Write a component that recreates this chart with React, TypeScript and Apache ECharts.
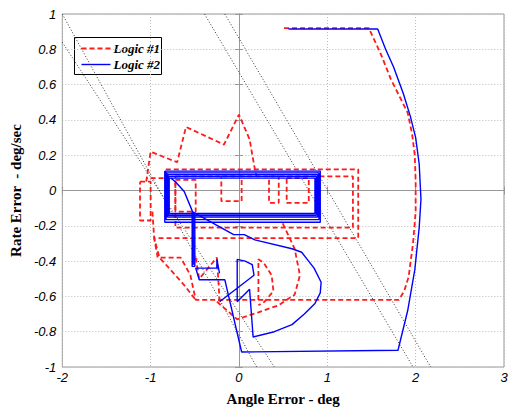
import React, { useEffect, useRef } from "react";
import * as echarts from "echarts";

// ---- axes ----
const xMin = -2, xMax = 3, xStep = 1;
const yMin = -1, yMax = 1, yStep = 0.2;

// ---- legend ----
const legendNames = ["Logic #1", "Logic #2"];

// ---- dotted switching lines ----
const switchLine1 = [[-2, 1], [0.2, -1]];
const switchLine2 = [[-2, 0.84], [0.4, -1]];
const switchLine3 = [[-0.39, 1], [1.97, -1]];
const switchLine4 = [[-0.16, 1], [2.17, -1]];

// ---- Logic #1 (red dashed) ----
const redOuter = [
  [0.51, 0.92], [1.47, 0.92], [1.6, 0.78], [1.72, 0.63], [1.83, 0.52], [1.91, 0.44],
  [1.96, 0.32], [1.99, 0.2], [2.0, 0.05], [2.0, -0.12], [1.97, -0.3], [1.92, -0.49],
  [1.87, -0.57], [1.81, -0.62], [-0.49, -0.62], [-0.55, -0.48], [-0.66, -0.38],
  [-0.92, -0.38], [-0.96, -0.27], [1.35, -0.27], [1.35, 0.12], [-0.83, 0.12],
  [-0.83, 0.07], [-1.05, 0.07],
];
const redJag = [
  [-1.05, 0.05], [-1.0, 0.22], [-0.7, 0.16], [-0.6, 0.36], [-0.17, 0.26], [0.0, 0.43],
  [0.12, 0.29], [0.18, 0.12], [0.2, 0.08],
];
const redSmall = [[-1.12, 0.05], [-1.0, 0.05], [-1.0, -0.17], [-1.12, -0.17], [-1.12, 0.05]];
const redRect2 = [[-0.72, 0.08], [1.29, 0.08], [1.29, -0.21], [-0.72, -0.21], [-0.72, 0.08]];
const redRect3 = [[-0.72, 0.06], [-0.49, 0.06], [-0.49, -0.12], [-0.72, -0.12], [-0.72, 0.06]];
const redRect4 = [[-0.2, 0.08], [0.03, 0.08], [0.03, -0.06], [-0.2, -0.06], [-0.2, 0.08]];
const redRect5 = [[0.34, 0.08], [0.45, 0.08], [0.45, -0.07], [0.34, -0.07], [0.34, 0.08]];
const redRect6 = [[0.54, 0.07], [0.79, 0.07], [0.79, -0.07], [0.54, -0.07], [0.54, 0.07]];
const redArc1 = [
  [-0.25, -0.63], [-0.02, -0.73], [0.22, -0.69], [0.45, -0.65], [0.63, -0.59],
  [0.69, -0.48], [0.63, -0.33], [0.48, -0.17],
];
const redArc2 = [
  [0.22, -0.62], [0.22, -0.39], [0.28, -0.41], [0.37, -0.48], [0.39, -0.57],
  [0.29, -0.63], [0.22, -0.65],
];
const redLeft = [[-0.98, -0.12], [-0.96, -0.27], [-0.9, -0.38], [-0.63, -0.53], [-0.49, -0.62]];
const redMid = [[-0.49, -0.38], [-0.45, -0.5], [-0.25, -0.38], [-0.22, -0.62], [-0.25, -0.63]];

// ---- Logic #2 (blue solid) ----
const blueOuter = [
  [0.56, 0.915], [1.57, 0.915], [1.66, 0.8], [1.75, 0.7], [1.86, 0.55], [1.94, 0.42],
  [2.0, 0.3], [2.04, 0.15], [2.06, -0.05], [2.04, -0.21], [1.99, -0.45], [1.91, -0.68],
  [1.8, -0.905], [0.03, -0.915], [-0.16, -0.506], [-0.45, -0.506], [-0.49, -0.44],
  [-0.25, -0.44], [-0.25, -0.39], [-0.22, -0.47],
];
const blueD = [
  [-0.22, -0.63], [0.17, -0.48], [0.15, -0.42], [0.07, -0.4], [-0.02, -0.39], [-0.02, -0.63],
  [0.12, -0.56], [0.16, -0.83], [0.4, -0.8], [0.6, -0.76], [0.74, -0.7], [0.86, -0.64],
  [0.92, -0.58], [0.93, -0.52], [0.85, -0.44], [0.71, -0.35], [0.6, -0.33], [0.18, -0.28],
  [0.06, -0.25], [-0.06, -0.25], [-0.53, -0.12],
];
const blueCurve = [
  [-0.77, 0.07], [-0.72, 0.05], [-0.62, -0.006], [-0.55, -0.09], [-0.51, -0.14], [-0.51, -0.42],
];
const blueStem = [[-0.53, -0.12], [-0.53, -0.43], [-0.5, -0.43], [-0.5, -0.13], [-0.52, -0.13], [-0.52, -0.42]];
const blueLoopLeft = [-0.84, -0.825, -0.81, -0.8, -0.79];
const blueLoopRight = [0.92, 0.905, 0.89, 0.875, 0.86];
const blueLoopTop = [0.11, 0.1, 0.09, 0.08, 0.07];
const blueLoopBottom = [-0.18, -0.165, -0.15, -0.14, -0.13];

function buildLoops() {
  const pts: number[][] = [];
  for (let i = 0; i < blueLoopLeft.length; i++) {
    pts.push([blueLoopLeft[i], blueLoopTop[i]]);
    pts.push([blueLoopRight[i], blueLoopTop[i]]);
    pts.push([blueLoopRight[i], blueLoopBottom[i]]);
    pts.push([blueLoopLeft[i], blueLoopBottom[i]]);
    pts.push([blueLoopLeft[i], blueLoopTop[i]]);
  }
  return pts;
}

const RED = "#ff1a1a";
const BLUE = "#0000ff";

export default function App() {
  const ref = useRef<HTMLDivElement>(null);
  useEffect(() => {
    if (!ref.current) return;
    const chart = echarts.init(ref.current, null, { renderer: "svg" });
    const redSeries = [redOuter, redJag, redSmall, redRect2, redRect3, redRect4, redRect5, redRect6, redArc1, redArc2, redLeft, redMid].map((d) => ({
      name: legendNames[0],
      type: "line",
      data: d,
      showSymbol: false,
      symbol: "none",
      lineStyle: { color: RED, width: 1.8, type: [5, 3] },
      itemStyle: { color: RED },
      z: 3,
    }));
    const blueSeries = [blueOuter, blueD, blueCurve, blueStem, buildLoops()].map((d) => ({
      name: legendNames[1],
      type: "line",
      data: d,
      showSymbol: false,
      symbol: "none",
      lineStyle: { color: BLUE, width: 1.4 },
      itemStyle: { color: BLUE },
      z: 4,
    }));
    const dotted = [switchLine1, switchLine2, switchLine3, switchLine4].map((d) => ({
      type: "line",
      data: d,
      showSymbol: false,
      symbol: "none",
      silent: true,
      lineStyle: { color: "#333", width: 1, type: [1, 2] },
      z: 2,
    }));
    const fmt = (v: number) => String(Math.round(v * 10) / 10);
    const tickFont = { fontFamily: "Liberation Sans", fontStyle: "italic", fontSize: 13, color: "#000" };
    const legendFont = { fontFamily: "Liberation Serif", fontStyle: "italic", fontWeight: "bold", fontSize: 13, fill: "#000" };
    chart.setOption({
      animation: false,
      grid: { left: 59, top: 14, right: 11, bottom: 35, show: true, borderColor: "#999", borderWidth: 1, backgroundColor: "#fff" },
      graphic: [
        {
          type: "group", left: 74, top: 37, z: 100,
          children: [
            { type: "rect", shape: { x: 0, y: 0, width: 87, height: 37 }, style: { fill: "#fff", stroke: "#000", lineWidth: 1 } },
            { type: "line", shape: { x1: 7, y1: 11, x2: 36, y2: 11 }, style: { stroke: RED, lineWidth: 1.8, lineDash: [5, 3] } },
            { type: "text", x: 39, y: 11, style: { text: legendNames[0], ...legendFont, verticalAlign: "middle" } },
            { type: "line", shape: { x1: 7, y1: 27, x2: 36, y2: 27 }, style: { stroke: BLUE, lineWidth: 1.4 } },
            { type: "text", x: 39, y: 27, style: { text: legendNames[1], ...legendFont, verticalAlign: "middle" } },
          ],
        },
      ],
      xAxis: [
        {
          type: "value", min: xMin, max: xMax, interval: xStep,
          name: "Angle Error - deg", nameLocation: "middle", nameGap: 24,
          nameTextStyle: { fontFamily: "Liberation Serif", fontWeight: "bold", fontSize: 15, color: "#000" },
          axisLine: { lineStyle: { color: "#999" } },
          axisTick: { inside: true, length: 4, lineStyle: { color: "#999" } },
          axisLabel: { ...tickFont, margin: 4, formatter: fmt },
          splitLine: { show: true, lineStyle: { color: "#bbb", type: [1, 2] } },
        },
        {
          type: "value", min: xMin, max: xMax, interval: xStep, position: "top",
          axisLine: { lineStyle: { color: "#999" } },
          axisTick: { inside: true, length: 4, lineStyle: { color: "#999" } },
          axisLabel: { show: false }, splitLine: { show: false },
        },
      ],
      yAxis: [
        {
          type: "value", min: yMin, max: yMax, interval: yStep,
          name: "Rate Error  - deg/sec", nameLocation: "middle", nameGap: 36,
          nameTextStyle: { fontFamily: "Liberation Serif", fontWeight: "bold", fontSize: 15, color: "#000" },
          axisLine: { show: true, lineStyle: { color: "#999" } },
          axisTick: { show: true, inside: true, length: 4, lineStyle: { color: "#999" } },
          axisLabel: { ...tickFont, margin: 6, formatter: fmt },
          splitLine: { show: true, lineStyle: { color: "#bbb", type: [1, 2] } },
        },
        {
          type: "value", min: yMin, max: yMax, interval: yStep, position: "right",
          axisLine: { show: true, lineStyle: { color: "#999" } },
          axisTick: { show: true, inside: true, length: 4, lineStyle: { color: "#999" } },
          axisLabel: { show: false }, splitLine: { show: false },
        },
      ],
      series: [...dotted, ...redSeries, ...blueSeries],
    });
    return () => chart.dispose();
  }, []);
  return <div ref={ref} style={{ position: "fixed", left: 0, top: 0, width: 515, height: 411, background: "#fff" }} />;
}
